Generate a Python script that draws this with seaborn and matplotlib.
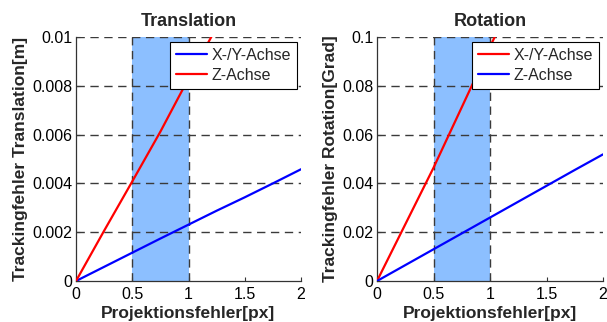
import matplotlib
matplotlib.use("Agg")
import matplotlib.pyplot as plt
import matplotlib.ticker as mticker
import pandas as pd
import seaborn as sns

# Projection error samples [px]
proj_err = [0.0, 0.25, 0.5, 0.75, 1.0, 1.25, 1.5, 1.75, 2.0]

# Translation tracking error [m]
trans_xy = [0.0, 0.00058, 0.00116, 0.00174, 0.00231, 0.00288, 0.00343, 0.00400, 0.00458]
trans_z = [0.0, 0.00206, 0.00408, 0.00612, 0.00830, 0.01040, 0.01250, 0.01460, 0.01670]

# Rotation tracking error [Grad]
rot_xy = [0.0, 0.0232, 0.0464, 0.0712, 0.0960, 0.1200, 0.1440, 0.1680, 0.1920]
rot_z = [0.0, 0.0065, 0.0130, 0.0195, 0.0260, 0.0325, 0.0390, 0.0455, 0.0519]

# Band of typical projection error
band = (0.5, 1.0)

x_ticks = [0, 0.5, 1, 1.5, 2]
x_ticklabels = ["0", "0.5", "1", "1.5", "2"]
trans_ticks = [0, 0.002, 0.004, 0.006, 0.008, 0.01]
trans_ticklabels = ["0", "0.002", "0.004", "0.006", "0.008", "0.01"]
rot_ticks = [0, 0.02, 0.04, 0.06, 0.08, 0.1]
rot_ticklabels = ["0", "0.02", "0.04", "0.06", "0.08", "0.1"]

sns.set_style("white")
plt.rcParams["font.family"] = ["Liberation Sans", "DejaVu Sans"]

W, H = 607, 322
fig = plt.figure(figsize=(W / 100, H / 100), dpi=100)

ax1 = fig.add_axes([76 / W, 1 - 281 / H, 225 / W, 244 / H])
ax2 = fig.add_axes([377 / W, 1 - 281 / H, 226 / W, 244 / H])


def panel(ax, title, ylabel, s1, s2, lab1, lab2, c1, c2, yticks, yticklabels):
    df = pd.DataFrame({
        "x": proj_err * 2,
        "y": s1 + s2,
        "Serie": [lab1] * len(proj_err) + [lab2] * len(proj_err),
    })
    ax.axvspan(band[0], band[1], color="#8cbfff", lw=0, zorder=0.5)
    for xv in band:
        ax.axvline(xv, color="#3a3a3a", lw=1.0, ls=(0, (6, 4)), zorder=1.2)
    for yv in yticks[1:]:
        ax.axhline(yv, color="#3a3a3a", lw=1.0, ls=(0, (6, 4)), zorder=1.2)
    sns.lineplot(data=df, x="x", y="y", hue="Serie", palette={lab1: c1, lab2: c2},
                 ax=ax, lw=1.6, zorder=3, legend=True)
    ax.set_xlim(0, 2)
    ax.set_ylim(yticks[0], yticks[-1])
    ax.xaxis.set_major_locator(mticker.FixedLocator(x_ticks))
    ax.xaxis.set_major_formatter(mticker.FixedFormatter(x_ticklabels))
    ax.yaxis.set_major_locator(mticker.FixedLocator(yticks))
    ax.yaxis.set_major_formatter(mticker.FixedFormatter(yticklabels))
    ax.tick_params(axis="both", direction="in", length=3, width=0.8, color="#333333",
                   labelsize=11.5, bottom=True, left=True, labelcolor="black")
    ax.tick_params(axis="x", pad=4.5)
    ax.tick_params(axis="y", pad=2.5)
    for side in ("top", "right"):
        ax.spines[side].set_visible(False)
    for side in ("left", "bottom"):
        ax.spines[side].set_color("#333333")
        ax.spines[side].set_linewidth(0.9)
    ax.set_title(title, fontsize=13, fontweight="bold", pad=8)
    ax.set_xlabel("Projektionsfehler[px]", fontsize=12.5, fontweight="bold", labelpad=2.5)
    ax.set_ylabel(ylabel, fontsize=12.5, fontweight="bold", labelpad=3)
    leg = ax.legend(loc="upper right", bbox_to_anchor=(0.982, 0.98), fontsize=11.5,
                    frameon=True, fancybox=False, handlelength=1.9, handletextpad=0.3,
                    borderpad=0.38, labelspacing=0.3, borderaxespad=0)
    leg.get_frame().set_edgecolor("black")
    leg.get_frame().set_linewidth(0.8)
    leg.get_frame().set_alpha(1)
    for line in leg.get_lines():
        line.set_linewidth(1.6)


panel(ax1, "Translation", "Trackingfehler Translation[m]", trans_xy, trans_z,
      "X-/Y-Achse", "Z-Achse", "#0000ff", "#ff0000", trans_ticks, trans_ticklabels)
panel(ax2, "Rotation", "Trackingfehler Rotation[Grad]", rot_xy, rot_z,
      "X-/Y-Achse", "Z-Achse", "#ff0000", "#0000ff", rot_ticks, rot_ticklabels)

fig.savefig("out.png", dpi=100)
